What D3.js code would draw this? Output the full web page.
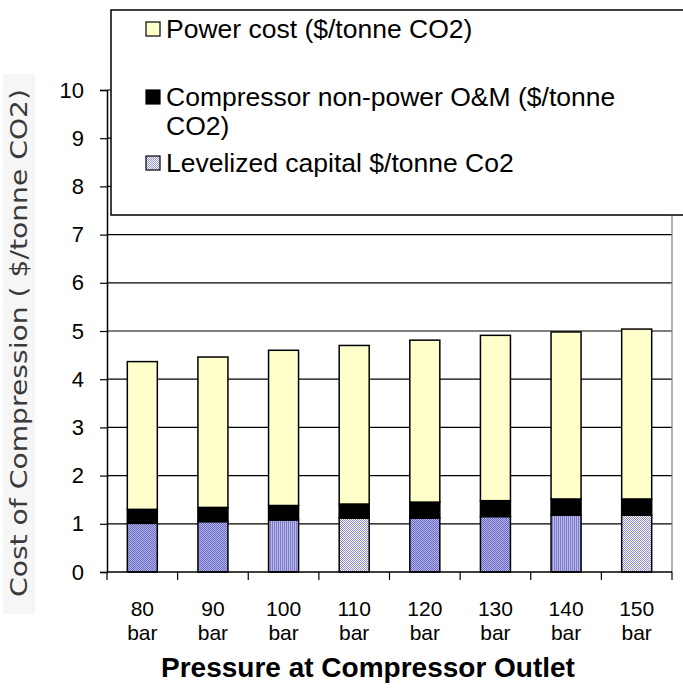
<!DOCTYPE html>
<html>
<head>
<meta charset="utf-8">
<script src="https://cdn.jsdelivr.net/npm/d3@7"></script>
<style>
  html, body { margin: 0; padding: 0; background: #fff; }
  svg { display: block; }
</style>
</head>
<body>
<svg id="chart" width="683" height="690"></svg>
<script>
// ---- data ----
const categories = ["80 bar", "90 bar", "100 bar", "110 bar", "120 bar", "130 bar", "140 bar", "150 bar"];
const capital = [1.01, 1.045, 1.08, 1.115, 1.115, 1.15, 1.18, 1.18];
const omCost = [0.29, 0.295, 0.30, 0.295, 0.335, 0.33, 0.335, 0.335];
const powerCost = [3.065, 3.12, 3.22, 3.29, 3.36, 3.43, 3.465, 3.525];
const yTicks = [0, 1, 2, 3, 4, 5, 6, 7, 8, 9, 10];
const seriesNames = ["Power cost ($/tonne CO2)", "Compressor non-power O&M ($/tonne CO2)", "Levelized capital $/tonne Co2"];
const xTitle = "Pressure at Compressor Outlet";
const yTitle = "Cost of Compression ( $/tonne CO2)";

// ---- drawing ----
(function () {
const svg = d3.select("#chart");
const pL = 107, pR = 672, pT = 90, pB = 572;

const x = d3.scaleBand().domain(categories).range([pL, pR]).paddingInner(0.575).paddingOuter(0.2875);
const y = d3.scaleLinear().domain([0, 10]).range([pB, pT]);

// patterns
const defs = svg.append("defs");
function checker(id, c1, c2) {
  const p = defs.append("pattern").attr("id", id).attr("patternUnits", "userSpaceOnUse").attr("width", 2).attr("height", 2);
  p.append("rect").attr("width", 2).attr("height", 2).attr("fill", c2);
  p.append("rect").attr("width", 1).attr("height", 1).attr("fill", c1);
  p.append("rect").attr("x", 1).attr("y", 1).attr("width", 1).attr("height", 1).attr("fill", c1);
}
checker("checkDark", "#6a6ac8", "#b4b4e4");
checker("checkLight", "#8a8ad8", "#ffffff");
checker("checkLegend", "#9a9ad8", "#f4f4fc");
const st = defs.append("pattern").attr("id", "stripes").attr("patternUnits", "userSpaceOnUse").attr("width", 2).attr("height", 2);
st.append("rect").attr("width", 2).attr("height", 2).attr("fill", "#b8b8e6");
st.append("rect").attr("width", 1).attr("height", 2).attr("fill", "#7c7cca");
const capPatterns = ["checkDark", "checkDark", "stripes", "checkLight"];

// gridlines
svg.append("g").selectAll("line").data(yTicks.filter(d => d > 0)).join("line")
  .attr("x1", pL).attr("x2", pR)
  .attr("y1", d => y(d)).attr("y2", d => y(d))
  .attr("stroke", "#000").attr("stroke-width", 1.2);

// right border
svg.append("line").attr("x1", pR).attr("x2", pR).attr("y1", pT).attr("y2", pB)
  .attr("stroke", "#808080").attr("stroke-width", 1.2);

// stacked bars
const rows = categories.map((c, i) => ({ cat: c, capital: capital[i], om: omCost[i], power: powerCost[i], i }));
const stack = d3.stack().keys(["capital", "om", "power"])(rows);
const fills = {
  capital: d => "url(#" + capPatterns[d.data.i % 4] + ")",
  om: () => "#000",
  power: () => "#FFFFCC"
};
stack.forEach(s => {
  svg.append("g").selectAll("rect").data(s).join("rect")
    .attr("x", d => x(d.data.cat))
    .attr("width", x.bandwidth())
    .attr("y", d => y(d[1]))
    .attr("height", d => y(d[0]) - y(d[1]))
    .attr("fill", fills[s.key])
    .attr("stroke", "#000").attr("stroke-width", 1.5);
});

// y axis
const yAxis = svg.append("g").attr("transform", `translate(${pL},0)`)
  .call(d3.axisLeft(y).tickValues(yTicks).tickSize(7).tickPadding(16).tickFormat(d3.format("d")));
yAxis.select(".domain").attr("stroke", "#000").attr("stroke-width", 1.5);
yAxis.selectAll(".tick line").attr("stroke", "#000").attr("stroke-width", 1.2);
yAxis.selectAll(".tick text").attr("font-family", "'Liberation Sans', Arial, sans-serif")
  .attr("font-size", 22).attr("fill", "#000");

// x axis
const xAxis = svg.append("g").attr("transform", `translate(0,${pB})`);
xAxis.append("line").attr("x1", pL).attr("x2", pR).attr("y1", 0).attr("y2", 0)
  .attr("stroke", "#000").attr("stroke-width", 1.5);
const step = x.step();
xAxis.selectAll("line.tk").data(d3.range(categories.length + 1)).join("line").attr("class", "tk")
  .attr("x1", i => pL + i * step).attr("x2", i => pL + i * step)
  .attr("y1", 0).attr("y2", 8).attr("stroke", "#000").attr("stroke-width", 1.2);
const xl = xAxis.selectAll("text.cat").data(categories).join("text").attr("class", "cat")
  .attr("x", d => x(d) + x.bandwidth() / 2)
  .attr("text-anchor", "middle")
  .attr("font-family", "'Liberation Sans', Arial, sans-serif").attr("font-size", 21).attr("fill", "#000");
xl.append("tspan").attr("x", d => x(d) + x.bandwidth() / 2).attr("y", 44).text(d => d.split(" ")[0]);
xl.append("tspan").attr("x", d => x(d) + x.bandwidth() / 2).attr("y", 68).text(d => d.split(" ")[1]);

// x title
svg.append("text").attr("x", 368).attr("y", 677).attr("text-anchor", "middle")
  .attr("font-family", "'Liberation Sans', Arial, sans-serif").attr("font-weight", "bold")
  .attr("font-size", 28).attr("fill", "#000").text(xTitle);

// y title
svg.append("rect").attr("x", 3).attr("y", 74).attr("width", 32).attr("height", 540).attr("fill", "#f6f6f6");
svg.append("text").attr("transform", "translate(27,343) rotate(-90)")
  .attr("text-anchor", "middle")
  .attr("font-family", "'DejaVu Sans', Verdana, sans-serif").attr("font-size", 23)
  .attr("textLength", 508).attr("lengthAdjust", "spacingAndGlyphs")
  .attr("fill", "#3a3a3a").text(yTitle);

// legend
const lg = svg.append("g");
lg.append("rect").attr("x", 111).attr("y", 10).attr("width", 600).attr("height", 205)
  .attr("fill", "#fff").attr("stroke", "#000").attr("stroke-width", 1.5);
const legendItems = [
  { fill: "#FFFFCC", lines: [seriesNames[0]], y: 22 },
  { fill: "#000", lines: ["Compressor non-power O&M ($/tonne", "CO2)"], y: 90 },
  { fill: "url(#checkLegend)", lines: [seriesNames[2]], y: 156 }
];
legendItems.forEach(it => {
  lg.append("rect").attr("x", 146).attr("y", it.y).attr("width", 14).attr("height", 14)
    .attr("fill", it.fill).attr("stroke", "#000").attr("stroke-width", 1.2);
  const t = lg.append("text").attr("font-family", "'Liberation Sans', Arial, sans-serif")
    .attr("font-size", 26.5).attr("fill", "#000");
  it.lines.forEach((ln, k) => {
    t.append("tspan").attr("x", 166).attr("y", it.y + 16 + k * 29).text(ln);
  });
});
})();
</script>
</body>
</html>
